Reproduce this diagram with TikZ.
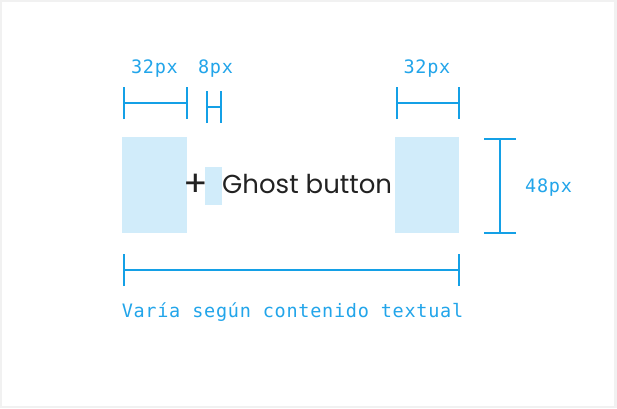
\documentclass[tikz,border=0pt]{standalone}
\usepackage{fontspec}
\usetikzlibrary{arrows.meta}
\newfontfamily\ghostfont{Poppins}
\newfontfamily\dimfont[LetterSpace=4]{DejaVu Sans Mono}
\definecolor{dimblue}{HTML}{14A0E6}
\definecolor{dimtext}{HTML}{22A5EA}
\definecolor{boxblue}{HTML}{D1ECFA}
\definecolor{frame}{HTML}{F1F1F1}
\definecolor{ink}{HTML}{222222}
\tikzset{
  padbox/.style={fill=boxblue,draw=none,inner sep=0pt,outer sep=0pt},
  dimline/.style={draw=dimblue,line width=2pt,{Bar[width=32pt,line width=2pt]}-{Bar[width=32pt,line width=2pt]}},
  dimlabel/.style={text=dimtext,font=\dimfont\fontsize{18.5}{22}\selectfont,inner sep=0pt},
}
\begin{document}
\begin{tikzpicture}[x=1pt,y=-1pt]
\useasboundingbox (0,0) rectangle (617,408);
\fill[frame] (0,0) rectangle (617,408);
\fill[white] (2,2) rectangle (614,406);
% boxes
\node[padbox,minimum width=65pt,minimum height=96pt] (lpad) at (154.5,185) {};
\node[padbox,minimum width=64pt,minimum height=96pt] (rpad) at (427,185) {};
\node[padbox,minimum width=16.5pt,minimum height=38pt] (gap) at (213.5,186) {};
% text
\node[text=ink,font=\ghostfont\fontsize{36}{40}\selectfont,inner sep=0pt] (plus) at (196,185) {+};
\node[text=ink,font=\ghostfont\fontsize{26}{30}\selectfont,inner sep=0pt,anchor=base west] (label) at (222,193.5) {Ghost button};
% dimension coordinates
\coordinate (a1) at (122.5,103);
\coordinate (a2) at (187.5,103);
\coordinate (b1) at (205.5,107);
\coordinate (b2) at (222,107);
\coordinate (c1) at (395.5,103);
\coordinate (c2) at (460,103);
\coordinate (d1) at (500,138);
\coordinate (d2) at (500,233.5);
\coordinate (e1) at (122.5,270);
\coordinate (e2) at (460,270);
\draw[dimline] (a1) -- (a2);
\draw[dimline] (b1) -- (b2);
\draw[dimline] (c1) -- (c2);
\draw[dimline] (d1) -- (d2);
\draw[dimline] (e1) -- (e2);
% labels
\node[dimlabel] (la) at (154.5,69) {32px};
\node[dimlabel] (lb) at (215.5,69) {8px};
\node[dimlabel] (lc) at (427,69) {32px};
\node[dimlabel,anchor=west] (ld) at (525,188) {48px};
\node[dimlabel] (le) at (292.5,312) {Varía según contenido textual};
\end{tikzpicture}
\end{document}
